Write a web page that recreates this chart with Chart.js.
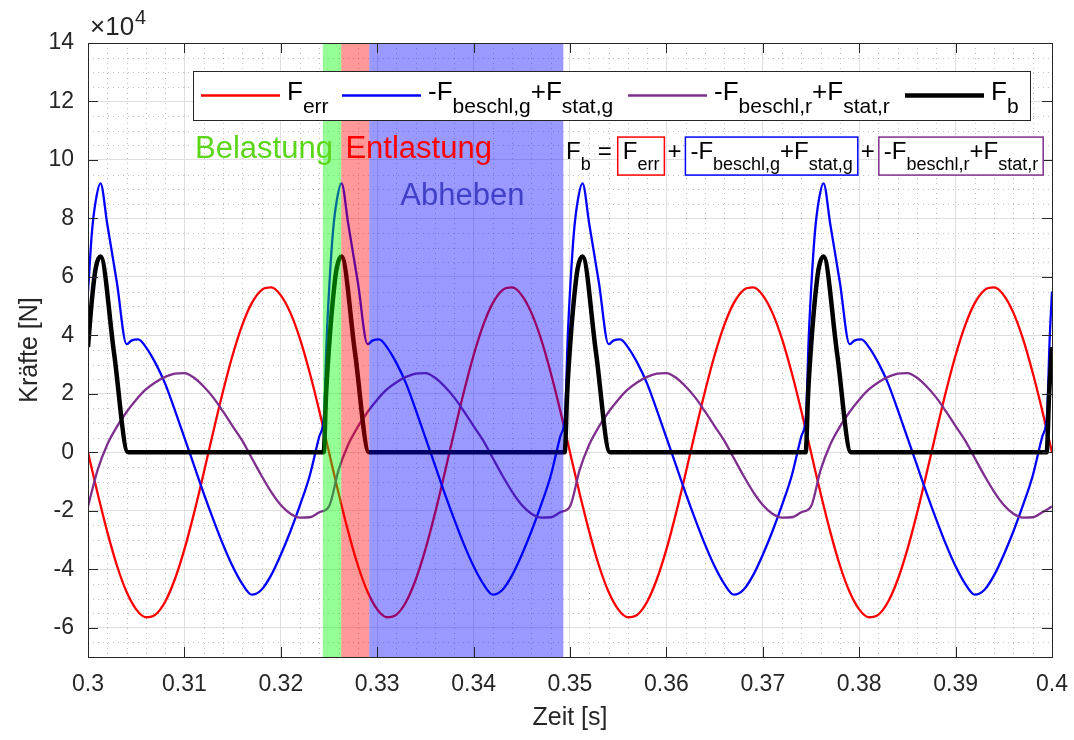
<!DOCTYPE html>
<html>
<head>
<meta charset="utf-8">
<script src="https://cdn.jsdelivr.net/npm/chart.js@4.4.0/dist/chart.umd.min.js"></script>
<style>
  html, body { margin: 0; padding: 0; background: #fff; }
  #wrap { width: 1074px; height: 740px; }
</style>
</head>
<body>
<div id="wrap"><canvas id="forces"></canvas></div>
<script>
// all forces in units of 1e4 N (the axis shows x10^4)
var tGrid = [
  0.300, 0.301, 0.302, 0.303, 0.304, 0.305, 0.306, 0.307, 0.308, 0.309,
  0.310, 0.311, 0.312, 0.313, 0.314, 0.315, 0.316, 0.317, 0.318, 0.319,
  0.320, 0.321, 0.322, 0.323, 0.324, 0.325, 0.326, 0.327, 0.328, 0.329,
  0.330, 0.331, 0.332, 0.333, 0.334, 0.335, 0.336, 0.337, 0.338, 0.339,
  0.340, 0.341, 0.342, 0.343, 0.344, 0.345, 0.346, 0.347, 0.348, 0.349,
  0.350, 0.351, 0.352, 0.353, 0.354, 0.355, 0.356, 0.357, 0.358, 0.359,
  0.360, 0.361, 0.362, 0.363, 0.364, 0.365, 0.366, 0.367, 0.368, 0.369,
  0.370, 0.371, 0.372, 0.373, 0.374, 0.375, 0.376, 0.377, 0.378, 0.379,
  0.380, 0.381, 0.382, 0.383, 0.384, 0.385, 0.386, 0.387, 0.388, 0.389,
  0.390, 0.391, 0.392, 0.393, 0.394, 0.395, 0.396, 0.397, 0.398, 0.399,
  0.400
];

// F_err
var errVals = [
  0, -1.41, -2.72, -3.87, -4.77, -5.37, -5.64, -5.55, -5.11, -4.35,
  -3.32, -2.08, -0.71, 0.71, 2.08, 3.32, 4.35, 5.11, 5.55, 5.64,
  5.37, 4.77, 3.87, 2.72, 1.41,
  0, -1.41, -2.72, -3.87, -4.77, -5.37, -5.64, -5.55, -5.11, -4.35,
  -3.32, -2.08, -0.71, 0.71, 2.08, 3.32, 4.35, 5.11, 5.55, 5.64,
  5.37, 4.77, 3.87, 2.72, 1.41,
  0, -1.41, -2.72, -3.87, -4.77, -5.37, -5.64, -5.55, -5.11, -4.35,
  -3.32, -2.08, -0.71, 0.71, 2.08, 3.32, 4.35, 5.11, 5.55, 5.64,
  5.37, 4.77, 3.87, 2.72, 1.41,
  0, -1.41, -2.72, -3.87, -4.77, -5.37, -5.64, -5.55, -5.11, -4.35,
  -3.32, -2.08, -0.71, 0.71, 2.08, 3.32, 4.35, 5.11, 5.55, 5.64,
  5.37, 4.77, 3.87, 2.72, 1.41,
  0
];

// -F_beschl,r + F_stat,r
var statRVals = [
  -1.85, -0.6, 0.27, 0.88, 1.38, 1.8, 2.15, 2.4, 2.58, 2.69,
  2.71, 2.55, 2.25, 1.87, 1.4, 0.9, 0.4, -0.2, -0.8, -1.35,
  -1.8, -2.1, -2.23, -2.22, -2.05,
  -1.85, -0.6, 0.27, 0.88, 1.38, 1.8, 2.15, 2.4, 2.58, 2.69,
  2.71, 2.55, 2.25, 1.87, 1.4, 0.9, 0.4, -0.2, -0.8, -1.35,
  -1.8, -2.1, -2.23, -2.22, -2.05,
  -1.85, -0.6, 0.27, 0.88, 1.38, 1.8, 2.15, 2.4, 2.58, 2.69,
  2.71, 2.55, 2.25, 1.87, 1.4, 0.9, 0.4, -0.2, -0.8, -1.35,
  -1.8, -2.1, -2.23, -2.22, -2.05,
  -1.85, -0.6, 0.27, 0.88, 1.38, 1.8, 2.15, 2.4, 2.58, 2.69,
  2.71, 2.55, 2.25, 1.87, 1.4, 0.9, 0.4, -0.2, -0.8, -1.35,
  -1.8, -2.1, -2.23, -2.22, -2.05,
  -1.85
];

// -F_beschl,g + F_stat,g (sharper, so denser near the peaks)
var tG = [
  0.3000, 0.3004, 0.3008, 0.3013, 0.3020, 0.3030, 0.3040, 0.3045, 0.3052, 0.3060,
  0.3070, 0.3080, 0.3090, 0.3100, 0.3110, 0.3120, 0.3130, 0.3140, 0.3150, 0.3160,
  0.3170, 0.3180, 0.3190, 0.3200, 0.3210, 0.3220, 0.3230, 0.3240, 0.3245, 0.32475,
  0.3250, 0.3254, 0.3258, 0.3263, 0.3270, 0.3280, 0.3290, 0.3295, 0.3302, 0.3310,
  0.3320, 0.3330, 0.3340, 0.3350, 0.3360, 0.3370, 0.3380, 0.3390, 0.3400, 0.3410,
  0.3420, 0.3430, 0.3440, 0.3450, 0.3460, 0.3470, 0.3480, 0.3490, 0.3495, 0.34975,
  0.3500, 0.3504, 0.3508, 0.3513, 0.3520, 0.3530, 0.3540, 0.3545, 0.3552, 0.3560,
  0.3570, 0.3580, 0.3590, 0.3600, 0.3610, 0.3620, 0.3630, 0.3640, 0.3650, 0.3660,
  0.3670, 0.3680, 0.3690, 0.3700, 0.3710, 0.3720, 0.3730, 0.3740, 0.3745, 0.37475,
  0.3750, 0.3754, 0.3758, 0.3763, 0.3770, 0.3780, 0.3790, 0.3795, 0.3802, 0.3810,
  0.3820, 0.3830, 0.3840, 0.3850, 0.3860, 0.3870, 0.3880, 0.3890, 0.3900, 0.3910,
  0.3920, 0.3930, 0.3940, 0.3950, 0.3960, 0.3970, 0.3980, 0.3990, 0.3995, 0.39975,
  0.4000
];
var statGVals = [
  5.5, 7.5, 8.6, 9.2, 7.8, 5.8, 3.7, 3.82, 3.86, 3.6,
  3.05, 2.35, 1.45, 0.5, -0.45, -1.4, -2.3, -3.15, -3.9, -4.5,
  -4.87, -4.7, -4.2, -3.5, -2.7, -1.8, -0.8, 0.55, 1.35, 3.8,
  5.5, 7.5, 8.6, 9.2, 7.8, 5.8, 3.7, 3.82, 3.86, 3.6,
  3.05, 2.35, 1.45, 0.5, -0.45, -1.4, -2.3, -3.15, -3.9, -4.5,
  -4.87, -4.7, -4.2, -3.5, -2.7, -1.8, -0.8, 0.55, 1.35, 3.8,
  5.5, 7.5, 8.6, 9.2, 7.8, 5.8, 3.7, 3.82, 3.86, 3.6,
  3.05, 2.35, 1.45, 0.5, -0.45, -1.4, -2.3, -3.15, -3.9, -4.5,
  -4.87, -4.7, -4.2, -3.5, -2.7, -1.8, -0.8, 0.55, 1.35, 3.8,
  5.5, 7.5, 8.6, 9.2, 7.8, 5.8, 3.7, 3.82, 3.86, 3.6,
  3.05, 2.35, 1.45, 0.5, -0.45, -1.4, -2.3, -3.15, -3.9, -4.5,
  -4.87, -4.7, -4.2, -3.5, -2.7, -1.8, -0.8, 0.55, 1.35, 3.8,
  5.5
];

// F_b
var tFb = [
  0.3000, 0.3004, 0.3008, 0.3013, 0.3027, 0.30415, 0.32445, 0.3247,
  0.3250, 0.3254, 0.3258, 0.3263, 0.3277, 0.32915, 0.34945, 0.3497,
  0.3500, 0.3504, 0.3508, 0.3513, 0.3527, 0.35415, 0.37445, 0.3747,
  0.3750, 0.3754, 0.3758, 0.3763, 0.3777, 0.37915, 0.39945, 0.3997,
  0.4000
];
var fbVals = [
  3.6, 5.2, 6.3, 6.7, 3.4, 0, 0, 2.0,
  3.6, 5.2, 6.3, 6.7, 3.4, 0, 0, 2.0,
  3.6, 5.2, 6.3, 6.7, 3.4, 0, 0, 2.0,
  3.6, 5.2, 6.3, 6.7, 3.4, 0, 0, 2.0,
  3.6
];

var xTickVals = [0.30, 0.31, 0.32, 0.33, 0.34, 0.35, 0.36, 0.37, 0.38, 0.39, 0.40];
var xTickLabels = ['0.3', '0.31', '0.32', '0.33', '0.34', '0.35', '0.36', '0.37', '0.38', '0.39', '0.4'];
var yTickVals = [-6, -4, -2, 0, 2, 4, 6, 8, 10, 12, 14];

// phases: Belastung, Entlastung, Abheben
var phaseFrom = [0.32436, 0.32627, 0.32918];
var phaseTo = [0.32627, 0.32918, 0.34931];
var phaseColors = ['rgba(0,255,0,0.42)', 'rgba(255,0,0,0.4)', 'rgba(0,0,255,0.4)'];

// label pieces: [text, isSubscript]
var legendLabels = [
  [['F', 0], ['err', 1]],
  [['-F', 0], ['beschl,g', 1], ['+F', 0], ['stat,g', 1]],
  [['-F', 0], ['beschl,r', 1], ['+F', 0], ['stat,r', 1]],
  [['F', 0], ['b', 1]]
];
var seriesColors = ['#FF0000', '#0000FF', '#7E2F8E', '#000000'];

var FONT = '"Liberation Sans", Arial, Helvetica, sans-serif';
function fnt(size) { return size + 'px ' + FONT; }

function toPoints(ts, vs) {
  return ts.map(function(t, i) { return {x: t, y: vs[i]}; });
}

function richWidth(ctx, parts, size, subSize) {
  var w = 0;
  parts.forEach(function(p) {
    ctx.font = fnt(p[1] ? subSize : size);
    w += ctx.measureText(p[0]).width;
  });
  return w;
}

function drawRich(ctx, parts, x, y, size, subSize, drop, color) {
  ctx.fillStyle = color;
  ctx.textAlign = 'left';
  ctx.textBaseline = 'alphabetic';
  parts.forEach(function(p) {
    ctx.font = fnt(p[1] ? subSize : size);
    ctx.fillText(p[0], x, y + (p[1] ? drop : 0));
    x += ctx.measureText(p[0]).width;
  });
  return x;
}

var overlay = {
  id: 'overlay',
  beforeDatasetsDraw: function(chart) {
    var ctx = chart.ctx, a = chart.chartArea, xs = chart.scales.x, ys = chart.scales.y;
    ctx.save();
    ctx.strokeStyle = 'rgba(60,60,60,0.32)';
    ctx.lineWidth = 1;
    ctx.setLineDash([1, 4]);
    for (var i = 151; i < 200; i++) {
      if (i % 5 === 0) continue;
      var px = Math.round(xs.getPixelForValue(i * 0.002)) + 0.5;
      ctx.beginPath(); ctx.moveTo(px, a.top); ctx.lineTo(px, a.bottom); ctx.stroke();
    }
    for (var j = -13; j < 28; j++) {
      if (j % 4 === 0) continue;
      var py = Math.round(ys.getPixelForValue(j * 0.5)) + 0.5;
      ctx.beginPath(); ctx.moveTo(a.left, py); ctx.lineTo(a.right, py); ctx.stroke();
    }
    ctx.restore();
  },
  afterDatasetsDraw: function(chart) {
    var ctx = chart.ctx, a = chart.chartArea, xs = chart.scales.x, ys = chart.scales.y;
    ctx.save();

    // shaded phases on top of the curves
    for (var k = 0; k < phaseFrom.length; k++) {
      var x0 = xs.getPixelForValue(phaseFrom[k]);
      var x1 = xs.getPixelForValue(phaseTo[k]);
      ctx.fillStyle = phaseColors[k];
      ctx.fillRect(x0, a.top, x1 - x0, a.bottom - a.top);
    }

    // axes box and inner ticks
    ctx.strokeStyle = '#262626';
    ctx.lineWidth = 1;
    ctx.strokeRect(Math.round(a.left) + 0.5, Math.round(a.top) + 0.5,
      Math.round(a.right - a.left), Math.round(a.bottom - a.top));
    ctx.beginPath();
    xTickVals.forEach(function(v) {
      var px = Math.round(xs.getPixelForValue(v)) + 0.5;
      ctx.moveTo(px, a.bottom); ctx.lineTo(px, a.bottom - 10);
      ctx.moveTo(px, a.top); ctx.lineTo(px, a.top + 10);
    });
    yTickVals.forEach(function(v) {
      var py = Math.round(ys.getPixelForValue(v)) + 0.5;
      ctx.moveTo(a.left, py); ctx.lineTo(a.left + 10, py);
      ctx.moveTo(a.right, py); ctx.lineTo(a.right - 10, py);
    });
    ctx.stroke();

    // x10^4
    ctx.fillStyle = '#262626';
    ctx.textAlign = 'left';
    ctx.textBaseline = 'alphabetic';
    ctx.font = fnt(26);
    ctx.fillText('\u00d710', a.left + 2, a.top - 8);
    var w10 = ctx.measureText('\u00d710').width;
    ctx.font = fnt(20);
    ctx.fillText('4', a.left + 3 + w10, a.top - 19);

    // phase labels
    ctx.font = fnt(31);
    ctx.fillStyle = '#5CD61A';
    ctx.fillText('Belastung', xs.getPixelForValue(0.3111), ys.getPixelForValue(10.05));
    ctx.fillStyle = '#FF0000';
    ctx.fillText('Entlastung', xs.getPixelForValue(0.3267), ys.getPixelForValue(10.05));
    ctx.fillStyle = 'rgb(64,64,200)';
    ctx.fillText('Abheben', xs.getPixelForValue(0.3324), ys.getPixelForValue(8.46));

    // equation F_b = [F_err] + [...] + [...]
    var ex = xs.getPixelForValue(0.34959);
    var ey = ys.getPixelForValue(10.03);
    var size = 24, sub = 18, drop = 10.5, pad = 5;
    ex = drawRich(ctx, legendLabels[3], ex, ey, size, sub, drop, '#000');
    ex += 7;
    ctx.font = fnt(size); ctx.fillStyle = '#000';
    ctx.fillText('=', ex, ey);
    ex += ctx.measureText('=').width + 6;
    for (var g = 0; g < 3; g++) {
      if (g > 0) {
        ex += 3;
        ctx.font = fnt(size); ctx.fillStyle = '#000';
        ctx.fillText('+', ex, ey);
        ex += ctx.measureText('+').width + 4;
      }
      var bw = richWidth(ctx, legendLabels[g], size, sub) + 2 * pad;
      ctx.fillStyle = '#fff';
      ctx.fillRect(ex, ey - 22, bw, 38);
      ctx.strokeStyle = seriesColors[g];
      ctx.lineWidth = 1.5;
      ctx.strokeRect(ex, ey - 22, bw, 38);
      drawRich(ctx, legendLabels[g], ex + pad, ey, size, sub, drop, '#000');
      ex += bw;
    }

    // legend
    ctx.fillStyle = '#fff';
    ctx.fillRect(193, 71, 837, 49);
    ctx.strokeStyle = '#262626';
    ctx.lineWidth = 1;
    ctx.strokeRect(193.5, 71.5, 837, 49);
    var lineStart = [201, 342, 628, 905];
    legendLabels.forEach(function(parts, i) {
      ctx.strokeStyle = seriesColors[i];
      ctx.lineWidth = i === 3 ? 4.5 : 2.3;
      ctx.beginPath();
      ctx.moveTo(lineStart[i], 95.5); ctx.lineTo(lineStart[i] + 79, 95.5);
      ctx.stroke();
      drawRich(ctx, parts, lineStart[i] + 86, 100, 26, 21, 12.5, '#000');
    });

    ctx.restore();
  }
};

var tickFont = { family: FONT, size: 23 };

new Chart(document.getElementById('forces').getContext('2d'), {
  type: 'line',
  data: {
    datasets: [
      { label: 'F_err', data: toPoints(tGrid, errVals), borderColor: seriesColors[0], borderWidth: 2.3, order: 4 },
      { label: '-F_beschl,g+F_stat,g', data: toPoints(tG, statGVals), borderColor: seriesColors[1], borderWidth: 2.3, order: 3 },
      { label: '-F_beschl,r+F_stat,r', data: toPoints(tGrid, statRVals), borderColor: seriesColors[2], borderWidth: 2.3, order: 2 },
      { label: 'F_b', data: toPoints(tFb, fbVals), borderColor: seriesColors[3], borderWidth: 4.5, order: 1 }
    ]
  },
  options: {
    responsive: true,
    maintainAspectRatio: false,
    animation: false,
    layout: { padding: { top: 43, right: 22, bottom: 0, left: 0 } },
    elements: {
      point: { radius: 0 },
      line: { cubicInterpolationMode: 'monotone', fill: false, borderJoinStyle: 'round' }
    },
    plugins: { legend: { display: false }, tooltip: { enabled: false } },
    scales: {
      x: {
        type: 'linear',
        min: 0.3,
        max: 0.4,
        afterBuildTicks: function(s) { s.ticks = xTickVals.map(function(v) { return {value: v}; }); },
        afterFit: function(s) { s.height = 83; s.paddingLeft = 0; s.paddingRight = 0; },
        ticks: {
          autoSkip: false,
          maxRotation: 0,
          padding: 14,
          color: '#262626',
          font: tickFont,
          callback: function(v, i) { return xTickLabels[i]; }
        },
        grid: { color: '#dfdfdf', drawTicks: false },
        border: { display: false },
        title: { display: true, text: 'Zeit [s]', color: '#262626', font: { family: FONT, size: 25 }, padding: { top: 0, bottom: 7 } }
      },
      y: {
        min: -7,
        max: 14,
        afterBuildTicks: function(s) { s.ticks = yTickVals.map(function(v) { return {value: v}; }); },
        afterFit: function(s) { s.width = 88; s.paddingTop = 0; s.paddingBottom = 0; },
        ticks: {
          padding: 14,
          color: '#262626',
          font: tickFont,
          callback: function(v) { return String(v); }
        },
        grid: { color: '#dfdfdf', drawTicks: false },
        border: { display: false },
        title: { display: true, text: 'Kräfte [N]', color: '#262626', font: { family: FONT, size: 25 }, padding: { top: 15, bottom: 0 } }
      }
    }
  },
  plugins: [overlay]
});
</script>
</body>
</html>
